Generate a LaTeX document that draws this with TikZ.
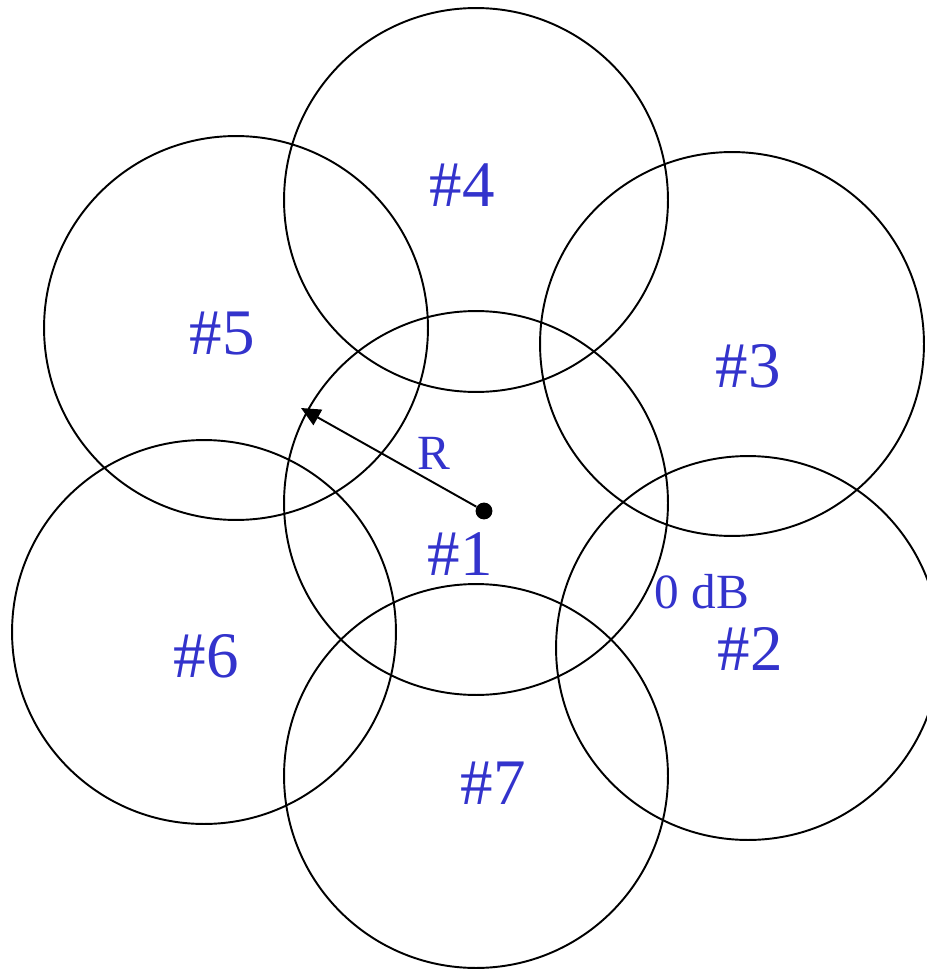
\documentclass[tikz,border=0pt]{standalone}
\usepackage{fontspec}
\setmainfont{Liberation Serif}
\usetikzlibrary{
  arrows.meta  % Triangle 箭头
}
\definecolor{cellblue}{RGB}{51,51,204}
\tikzset{
  cell/.style={
    line width=1.1pt,
    draw=black
  },
  cell label/.style={
    text=cellblue,
    font=\fontsize{37}{40}\selectfont,
    anchor=base,
    inner sep=0pt
  },
  small label/.style={
    text=cellblue,
    font=\fontsize{28}{32}\selectfont,
    anchor=base,
    inner sep=0pt
  },
  radius arrow/.style={
    -{Triangle[length=11pt, width=10pt]},
    line width=1.1pt
  },
  base dot/.style={
    circle,
    fill=black,
    inner sep=0pt,
    minimum size=9.6pt
  }
}

\begin{document}
\begin{tikzpicture}[x=0.02cm, y=-0.02cm]
    \useasboundingbox (0,0) rectangle (926,969);

    % 七个小区 (半径 R)
    \foreach \n/\cx/\cy in {1/476/503, 2/748/648, 3/732/344, 4/476/200,
                            5/236/328, 6/204/632, 7/476/776} {
      \draw[cell] (\cx,\cy) circle (3.84cm);
    }

    % 小区编号
    \foreach \n/\lx/\ly in {1/460/575, 2/750/670, 3/748/387, 4/462/207,
                            5/222/354, 6/206/677, 7/493/804} {
      \node[cell label] (lbl\n) at (\lx,\ly) {\#\n};
    }

    % 基站与半径箭头
    \node[base dot] (bs) at (484,511) {};
    \coordinate (rim) at (301,408);
    \draw[radius arrow] (bs) -- (rim);
    \node[small label] (rlbl) at (434,469) {R};
    \node[small label] (dblbl) at (702,608) {0 dB};

  \end{tikzpicture}
\end{document}
